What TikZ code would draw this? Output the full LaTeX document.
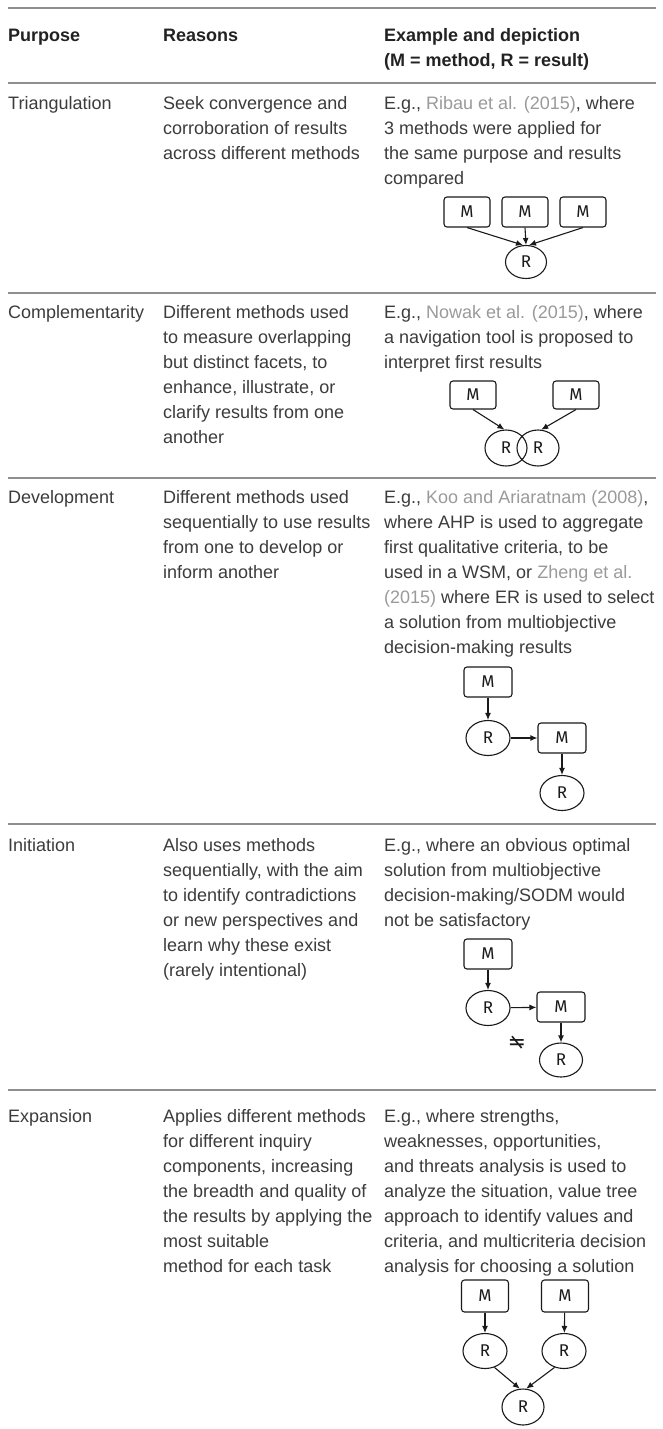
\documentclass[tikz,border=0pt]{standalone}
\usepackage{fontspec}
\setmainfont{Liberation Sans}
\newfontfamily\diagfont{Fira Sans}
\newfontfamily\symfont{DejaVu Sans}
\usetikzlibrary{shapes.geometric,arrows.meta}
\definecolor{txt}{HTML}{3C3C3C}
\definecolor{headc}{HTML}{222222}
\definecolor{rulec}{HTML}{8F8F8F}
\definecolor{linkc}{HTML}{9A9A9A}
\definecolor{diag}{HTML}{1A1A1A}
\newcommand{\lnk}[1]{\textcolor{linkc}{#1}}
\newcommand{\stt}{\rule{0pt}{15pt}}
\begin{document}
\begin{tikzpicture}[x=1pt,y=-1pt,
 cell/.style={anchor=north west,inner sep=0pt,align=left,text=txt,font=\fontsize{18}{25}\selectfont},
 head/.style={cell,text=headc,font=\fontsize{18}{25}\selectfont\bfseries},
 hrule/.style={draw=rulec,line width=1.2pt},
 mbox/.style={draw=diag,rounded corners=3pt,line width=1.1pt,minimum width=46pt,minimum height=30pt,inner sep=0pt,font=\diagfont\fontsize{17}{17}\selectfont,text=diag},
 rell/.style={ellipse,draw=diag,line width=1.1pt,minimum width=43pt,minimum height=35pt,inner sep=0pt,font=\diagfont\fontsize{17}{17}\selectfont,text=diag},
 arr/.style={draw=diag,line width=1.1pt,-{Latex[length=7pt,width=6pt]}}
]
\fill[white] (0,0) rectangle (662,1429);
\useasboundingbox (0,0) rectangle (662,1429);

% rules
\draw[hrule] (8,8) -- (656,8);
\draw[hrule] (8,83) -- (656,83);
\draw[hrule] (8,293) -- (656,293);
\draw[hrule] (8,478) -- (656,478);
\draw[hrule] (8,824) -- (656,824);
\draw[hrule] (8,1090) -- (656,1090);

% header
\node[head] (h1) at (8,26) {\stt Purpose};
\node[head] (h2) at (163,26) {\stt Reasons};
\node[head] (h3) at (384,26) {\stt Example and depiction\\(M = method, R = result)};

% Triangulation
\node[cell] (p1) at (8,94) {\stt Triangulation};
\node[cell] (r1) at (163,94) {\stt Seek convergence and\\corroboration of results\\across different methods};
\node[cell] (e1) at (384,94) {\stt E.g., \lnk{Ribau et al. (2015)}, where\\3 methods were applied for\\the same purpose and results\\compared};
\node[mbox] (t1) at (467,212) {M};
\node[mbox] (t2) at (525,212) {M};
\node[mbox] (t3) at (583,212) {M};
\node[rell,minimum width=41pt,minimum height=33pt] (tr) at (526,262) {R};
\draw[arr] (t1.south) -- (tr.100);
\draw[arr] (t2.south) -- (tr.north);
\draw[arr] (t3.south) -- (tr.80);

% Complementarity
\node[cell] (p2) at (8,303) {\stt Complementarity};
\node[cell] (r2) at (163,303) {\stt Different methods used\\to measure overlapping\\but distinct facets, to\\enhance, illustrate, or\\clarify results from one\\another};
\node[cell] (e2) at (384,303) {\stt E.g., \lnk{Nowak et al. (2015)}, where\\a navigation tool is proposed to\\interpret first results};
\node[mbox,minimum height=28pt] (c1) at (473,395) {M};
\node[mbox,minimum height=28pt] (c2) at (576,395) {M};
\node[rell,minimum width=42pt,minimum height=36pt] (cr1) at (506,448) {R};
\node[rell,minimum width=42pt,minimum height=36pt] (cr2) at (538,448) {R};
\draw[arr] (c1.south) -- (cr1.95);
\draw[arr] (c2.south) -- (cr2.80);

% Development
\node[cell] (p3) at (8,488) {\stt Development};
\node[cell] (r3) at (163,488) {\stt Different methods used\\sequentially to use results\\from one to develop or\\inform another};
\node[cell] (e3) at (384,488) {\stt E.g., \lnk{Koo and Ariaratnam (2008)},\\where AHP is used to aggregate\\first qualitative criteria, to be\\used in a WSM, or \lnk{Zheng et al.}\\\lnk{(2015)} where ER is used to select\\a solution from multiobjective\\decision-making results};
\node[mbox,minimum width=48pt] (d1) at (488,682) {M};
\node[rell,minimum width=44pt] (d2) at (488,738) {R};
\node[mbox,minimum width=48pt] (d3) at (562,738) {M};
\node[rell,minimum width=44pt] (d4) at (562,793) {R};
\draw[arr] (d1) -- (d2);
\draw[arr] (d2) -- (d3);
\draw[arr] (d3) -- (d4);

% Initiation
\node[cell] (p4) at (8,836) {\stt Initiation};
\node[cell] (r4) at (163,836) {\stt Also uses methods\\sequentially, with the aim\\to identify contradictions\\or new perspectives and\\learn why these exist\\(rarely intentional)};
\node[cell] (e4) at (384,836) {\stt E.g., where an obvious optimal\\solution from multiobjective\\decision-making/SODM would\\not be satisfactory};
\node[mbox,minimum width=48pt] (i1) at (488,954) {M};
\node[rell,minimum width=44pt] (i2) at (488,1008) {R};
\node[mbox,minimum width=48pt] (i3) at (561,1007) {M};
\node[rell,minimum width=43pt,minimum height=34pt] (i4) at (561,1060) {R};
\draw[arr] (i1) -- (i2);
\draw[arr] (i2) -- (i3);
\draw[arr] (i3) -- (i4);
\node[text=diag,inner sep=0pt,font=\symfont\fontsize{22}{22}\selectfont] (neq) at (517,1043) {\scalebox{-1}[1]{≠}};

% Expansion
\node[cell] (p5) at (8,1107) {\stt Expansion};
\node[cell] (r5) at (163,1107) {\stt Applies different methods\\for different inquiry\\components, increasing\\the breadth and quality of\\the results by applying the\\most suitable\\method for each task};
\node[cell] (e5) at (384,1107) {\stt E.g., where strengths,\\weaknesses, opportunities,\\and threats analysis is used to\\analyze the situation, value tree\\approach to identify values and\\criteria, and multicriteria decision\\analysis for choosing a solution};
\node[mbox,minimum width=47pt,minimum height=32pt] (x1) at (485,1296) {M};
\node[mbox,minimum width=47pt,minimum height=32pt] (x2) at (565,1296) {M};
\node[rell,minimum width=44pt] (x3) at (485,1351) {R};
\node[rell,minimum width=44pt] (x4) at (564,1351) {R};
\node[rell,minimum width=42pt,minimum height=36pt] (x5) at (523,1407) {R};
\draw[arr] (x1) -- (x3);
\draw[arr] (x2) -- (x4);
\draw[arr] (x3.-60) -- (x5.100);
\draw[arr] (x4.-120) -- (x5.80);
\end{tikzpicture}
\end{document}
